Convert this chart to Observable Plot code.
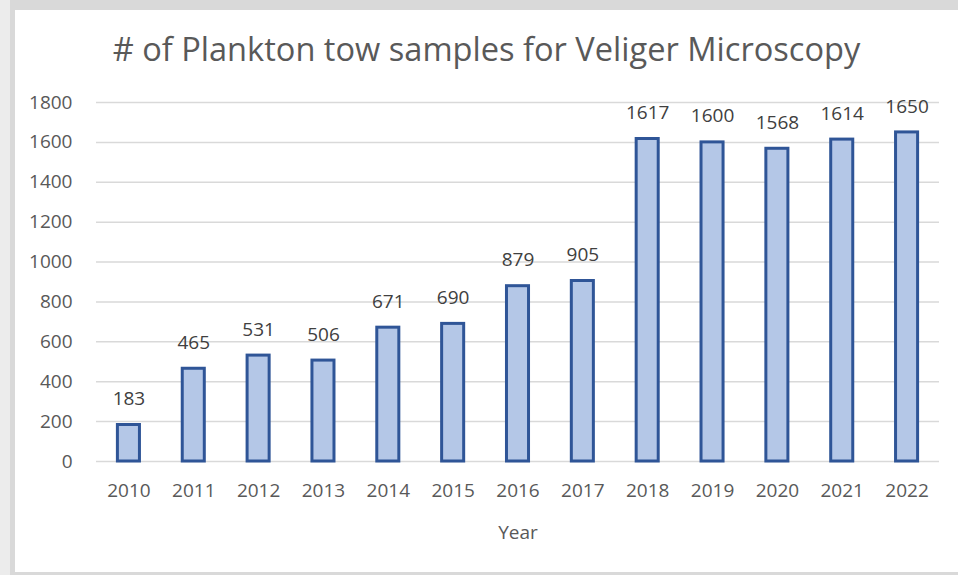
<!DOCTYPE html>
<html>
<head>
<meta charset="utf-8">
<script src="https://cdn.jsdelivr.net/npm/d3@7"></script>
<script src="https://cdn.jsdelivr.net/npm/@observablehq/plot@0.6"></script>
<style>
  html, body { margin: 0; padding: 0; }
  #frame { position: relative; width: 958px; height: 575px; background: #d9d9d9; overflow: hidden; }
  #strip { position: absolute; left: 0; top: 0; width: 10px; height: 575px; background: #ececec; }
  #panel { position: absolute; left: 15px; top: 10px; width: 943px; height: 562px; background: #ffffff; }
  #title { position: absolute; left: 15px; top: 29px; width: 943px; text-align: center; line-height: 40px;
           font-family: "Open Sans", sans-serif; font-weight: 400; font-size: 32.6px; color: #595959; }
  #chart { position: absolute; left: 0; top: 0; }
</style>
</head>
<body>
<div id="frame">
  <div id="strip"></div>
  <div id="panel"></div>
  <div id="title"># of Plankton tow samples for Veliger Microscopy</div>
  <div id="chart"></div>
</div>
<script>
const years = ["2010","2011","2012","2013","2014","2015","2016","2017","2018","2019","2020","2021","2022"];
const samples = [183, 465, 531, 506, 671, 690, 879, 905, 1617, 1600, 1568, 1614, 1650];
const yTicks = [0, 200, 400, 600, 800, 1000, 1200, 1400, 1600, 1800];
const xLabel = "Year";

const data = years.map((y, i) => ({year: y, value: samples[i]}));

const chart = Plot.plot({
  width: 958,
  height: 575,
  marginTop: 102,
  marginBottom: 114,
  marginLeft: 96,
  marginRight: 19,
  style: {background: "transparent", fontFamily: "Open Sans, sans-serif", fontSize: "19px", color: "#595959"},
  x: {domain: years, paddingInner: 0.66, paddingOuter: 0.33, round: false, label: null},
  y: {domain: [0, 1800], label: null},
  marks: [
    Plot.gridY(yTicks, {stroke: "#d9d9d9", strokeOpacity: 1, strokeWidth: 1.5}),
    Plot.barY(data, {x: "year", y: "value", fill: "#b4c7e7", stroke: "#2f5597", strokeWidth: 3}),
    Plot.text(data, {x: "year", y: "value", text: d => String(d.value), dy: -26, fill: "#404040", fontSize: 19}),
    Plot.axisX({tickSize: 0, tickPadding: 22, fontSize: 19, fill: "#595959"}),
    Plot.axisY(yTicks, {tickSize: 0, tickPadding: 24, tickFormat: d => String(d), fontSize: 19, fill: "#595959"}),
    Plot.text([xLabel], {frameAnchor: "bottom", dy: 77, fontSize: 19, fill: "#595959"})
  ]
});
document.getElementById("chart").appendChild(chart);
</script>
</body>
</html>
